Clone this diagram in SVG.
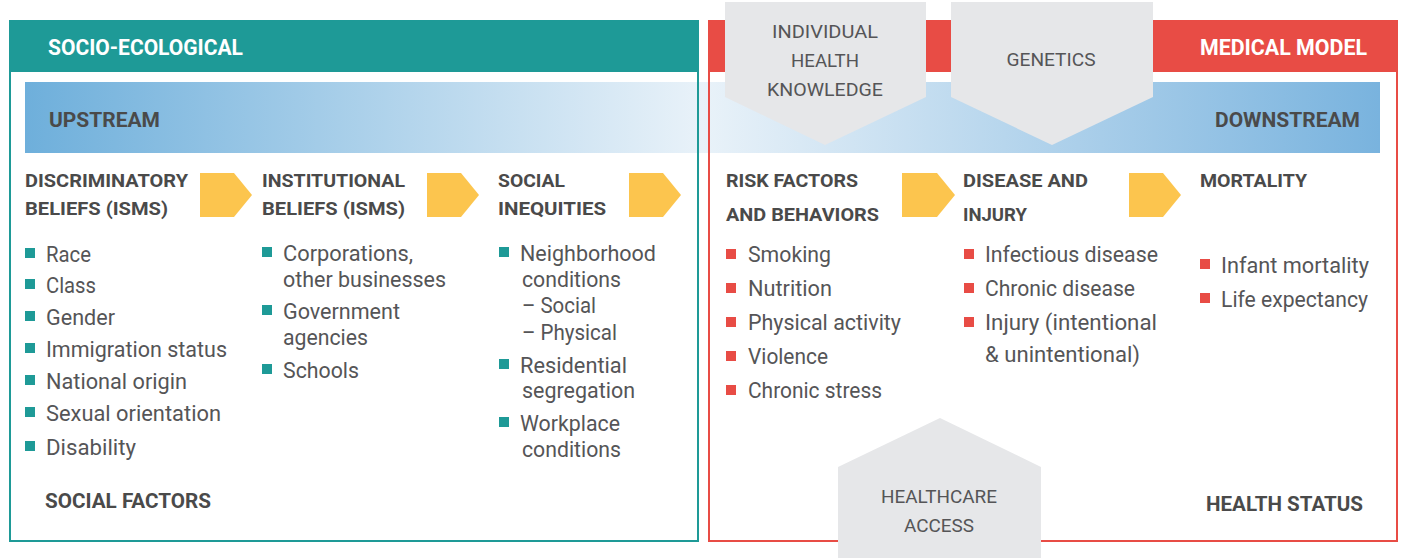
<svg xmlns="http://www.w3.org/2000/svg" width="1403" height="558" viewBox="0 0 1403 558">
<defs>
<linearGradient id="band" x1="25" y1="0" x2="1380" y2="0" gradientUnits="userSpaceOnUse">
<stop offset="0" stop-color="#6eafdb"/>
<stop offset="0.5" stop-color="#e9f2f9"/>
<stop offset="1" stop-color="#79b3de"/>
</linearGradient>
<style>
text{font-family:Roboto,"Liberation Sans",sans-serif}
.hw{font-size:22px;font-weight:700;fill:#fff}
.st{font-size:21px;font-weight:700;fill:#4a4a4a}
.h{font-size:19px;font-weight:700;fill:#4a4a4a}
.b{font-size:22px;font-weight:400;fill:#555557}
.p{font-size:19px;font-weight:400;fill:#555557}
.tb{fill:#1e9a97}
.rb{fill:#e84c45}
.chev{fill:#fcc54e}
.pent{fill:#e6e7e9}
</style>
</defs>
<rect x="0" y="0" width="1403" height="558" fill="#fff"/>

<g id="band-group">
<rect x="25" y="82" width="1355" height="71" fill="url(#band)"/>
<text class="st" x="49" y="127" textLength="111" lengthAdjust="spacingAndGlyphs">UPSTREAM</text>
<text class="st" x="1215" y="127" textLength="145" lengthAdjust="spacingAndGlyphs">DOWNSTREAM</text>
</g>

<g id="socio-ecological">
<rect x="10" y="21" width="688" height="520" fill="none" stroke="#1e9a97" stroke-width="2"/>
<rect x="9" y="21" width="690" height="51" fill="#1e9a97"/>
<text class="hw" x="48" y="55" textLength="195" lengthAdjust="spacingAndGlyphs">SOCIO-ECOLOGICAL</text>
<text class="st" x="45" y="508" textLength="166" lengthAdjust="spacingAndGlyphs">SOCIAL FACTORS</text>
</g>

<g id="medical-model">
<rect x="709" y="21" width="688" height="520" fill="none" stroke="#e84c45" stroke-width="2"/>
<rect x="709" y="21" width="689" height="51" fill="#e84c45"/>
<text class="hw" x="1200" y="55" textLength="167" lengthAdjust="spacingAndGlyphs">MEDICAL MODEL</text>
<text class="st" x="1206" y="511" textLength="157" lengthAdjust="spacingAndGlyphs">HEALTH STATUS</text>
</g>

<g id="discriminatory-beliefs">
<text class="h" x="25" y="187" textLength="163" lengthAdjust="spacingAndGlyphs">DISCRIMINATORY</text>
<text class="h" x="25" y="215" textLength="143" lengthAdjust="spacingAndGlyphs">BELIEFS (ISMS)</text>
<rect class="tb" x="25" y="248" width="10" height="10"/><text class="b" x="46" y="262" textLength="45" lengthAdjust="spacingAndGlyphs">Race</text>
<rect class="tb" x="25" y="279" width="10" height="10"/><text class="b" x="46" y="293" textLength="50" lengthAdjust="spacingAndGlyphs">Class</text>
<rect class="tb" x="25" y="311" width="10" height="10"/><text class="b" x="46" y="325" textLength="69" lengthAdjust="spacingAndGlyphs">Gender</text>
<rect class="tb" x="25" y="343" width="10" height="10"/><text class="b" x="46" y="357" textLength="181" lengthAdjust="spacingAndGlyphs">Immigration status</text>
<rect class="tb" x="25" y="375" width="10" height="10"/><text class="b" x="46" y="389" textLength="141" lengthAdjust="spacingAndGlyphs">National origin</text>
<rect class="tb" x="25" y="407" width="10" height="10"/><text class="b" x="46" y="421" textLength="175" lengthAdjust="spacingAndGlyphs">Sexual orientation</text>
<rect class="tb" x="25" y="441" width="10" height="10"/><text class="b" x="46" y="455" textLength="90" lengthAdjust="spacingAndGlyphs">Disability</text>
</g>

<g id="institutional-beliefs">
<text class="h" x="262" y="187" textLength="143" lengthAdjust="spacingAndGlyphs">INSTITUTIONAL</text>
<text class="h" x="262" y="215" textLength="143" lengthAdjust="spacingAndGlyphs">BELIEFS (ISMS)</text>
<rect class="tb" x="262" y="247" width="10" height="10"/><text class="b" x="283" y="261" textLength="130" lengthAdjust="spacingAndGlyphs">Corporations,</text>
<text class="b" x="283" y="287" textLength="163" lengthAdjust="spacingAndGlyphs">other businesses</text>
<rect class="tb" x="262" y="305" width="10" height="10"/><text class="b" x="283" y="319" textLength="117" lengthAdjust="spacingAndGlyphs">Government</text>
<text class="b" x="283" y="345" textLength="85" lengthAdjust="spacingAndGlyphs">agencies</text>
<rect class="tb" x="262" y="364" width="10" height="10"/><text class="b" x="283" y="378" textLength="76" lengthAdjust="spacingAndGlyphs">Schools</text>
</g>

<g id="social-inequities">
<text class="h" x="498" y="187" textLength="67" lengthAdjust="spacingAndGlyphs">SOCIAL</text>
<text class="h" x="498" y="215" textLength="108" lengthAdjust="spacingAndGlyphs">INEQUITIES</text>
<rect class="tb" x="499" y="247" width="10" height="10"/><text class="b" x="520" y="261" textLength="136" lengthAdjust="spacingAndGlyphs">Neighborhood</text>
<text class="b" x="522" y="287" textLength="99" lengthAdjust="spacingAndGlyphs">conditions</text>
<text class="b" x="522" y="313" textLength="74" lengthAdjust="spacingAndGlyphs">– Social</text>
<text class="b" x="522" y="340" textLength="95" lengthAdjust="spacingAndGlyphs">– Physical</text>
<rect class="tb" x="499" y="359" width="10" height="10"/><text class="b" x="520" y="373" textLength="107" lengthAdjust="spacingAndGlyphs">Residential</text>
<text class="b" x="522" y="398" textLength="113" lengthAdjust="spacingAndGlyphs">segregation</text>
<rect class="tb" x="499" y="417" width="10" height="10"/><text class="b" x="520" y="431" textLength="100" lengthAdjust="spacingAndGlyphs">Workplace</text>
<text class="b" x="522" y="457" textLength="99" lengthAdjust="spacingAndGlyphs">conditions</text>
</g>

<g id="risk-factors">
<text class="h" x="726" y="187" textLength="132" lengthAdjust="spacingAndGlyphs">RISK FACTORS</text>
<text class="h" x="726" y="221" textLength="153" lengthAdjust="spacingAndGlyphs">AND BEHAVIORS</text>
<rect class="rb" x="726" y="249" width="10" height="10"/><text class="b" x="748" y="262" textLength="83" lengthAdjust="spacingAndGlyphs">Smoking</text>
<rect class="rb" x="726" y="283" width="10" height="10"/><text class="b" x="748" y="296" textLength="84" lengthAdjust="spacingAndGlyphs">Nutrition</text>
<rect class="rb" x="726" y="317" width="10" height="10"/><text class="b" x="748" y="330" textLength="153" lengthAdjust="spacingAndGlyphs">Physical activity</text>
<rect class="rb" x="726" y="351" width="10" height="10"/><text class="b" x="748" y="364" textLength="80" lengthAdjust="spacingAndGlyphs">Violence</text>
<rect class="rb" x="726" y="385" width="10" height="10"/><text class="b" x="748" y="398" textLength="134" lengthAdjust="spacingAndGlyphs">Chronic stress</text>
</g>

<g id="disease-injury">
<text class="h" x="963" y="187" textLength="125" lengthAdjust="spacingAndGlyphs">DISEASE AND</text>
<text class="h" x="963" y="221" textLength="64" lengthAdjust="spacingAndGlyphs">INJURY</text>
<rect class="rb" x="964" y="249" width="10" height="10"/><text class="b" x="985" y="262" textLength="173" lengthAdjust="spacingAndGlyphs">Infectious disease</text>
<rect class="rb" x="964" y="283" width="10" height="10"/><text class="b" x="985" y="296" textLength="150" lengthAdjust="spacingAndGlyphs">Chronic disease</text>
<rect class="rb" x="964" y="317" width="10" height="10"/><text class="b" x="985" y="330" textLength="172" lengthAdjust="spacingAndGlyphs">Injury (intentional</text>
<text class="b" x="985" y="362" textLength="155" lengthAdjust="spacingAndGlyphs">&amp; unintentional)</text>
</g>

<g id="mortality">
<text class="h" x="1200" y="187" textLength="107" lengthAdjust="spacingAndGlyphs">MORTALITY</text>
<rect class="rb" x="1200" y="259" width="10" height="10"/><text class="b" x="1221" y="273" textLength="148" lengthAdjust="spacingAndGlyphs">Infant mortality</text>
<rect class="rb" x="1200" y="293" width="10" height="10"/><text class="b" x="1221" y="307" textLength="147" lengthAdjust="spacingAndGlyphs">Life expectancy</text>
</g>

<g id="connectors">
<polygon class="chev" points="200,173 234,173 252,195 234,217 200,217"/>
<polygon class="chev" points="427,173 461,173 479,195 461,217 427,217"/>
<polygon class="chev" points="629,173 663,173 681,195 663,217 629,217"/>
<polygon class="chev" points="902,173 937,173 955,195 937,217 902,217"/>
<polygon class="chev" points="1129,173 1163,173 1181,195 1163,217 1129,217"/>
</g>

<g id="individual-health-knowledge">
<polygon class="pent" points="725,2 926,2 926,97 825,145 725,97"/>
<text class="p" x="825" y="38" text-anchor="middle" textLength="106" lengthAdjust="spacingAndGlyphs">INDIVIDUAL</text>
<text class="p" x="825" y="67" text-anchor="middle" textLength="68" lengthAdjust="spacingAndGlyphs">HEALTH</text>
<text class="p" x="825" y="96" text-anchor="middle" textLength="116" lengthAdjust="spacingAndGlyphs">KNOWLEDGE</text>
</g>

<g id="genetics">
<polygon class="pent" points="951,2 1153,2 1153,97 1052,145 951,97"/>
<text class="p" x="1051" y="66" text-anchor="middle" textLength="89" lengthAdjust="spacingAndGlyphs">GENETICS</text>
</g>

<g id="healthcare-access">
<polygon class="pent" points="838,467 940,418 1041,467 1041,558 838,558"/>
<text class="p" x="939" y="503" text-anchor="middle" textLength="116" lengthAdjust="spacingAndGlyphs">HEALTHCARE</text>
<text class="p" x="939" y="532" text-anchor="middle" textLength="70" lengthAdjust="spacingAndGlyphs">ACCESS</text>
</g>
</svg>
